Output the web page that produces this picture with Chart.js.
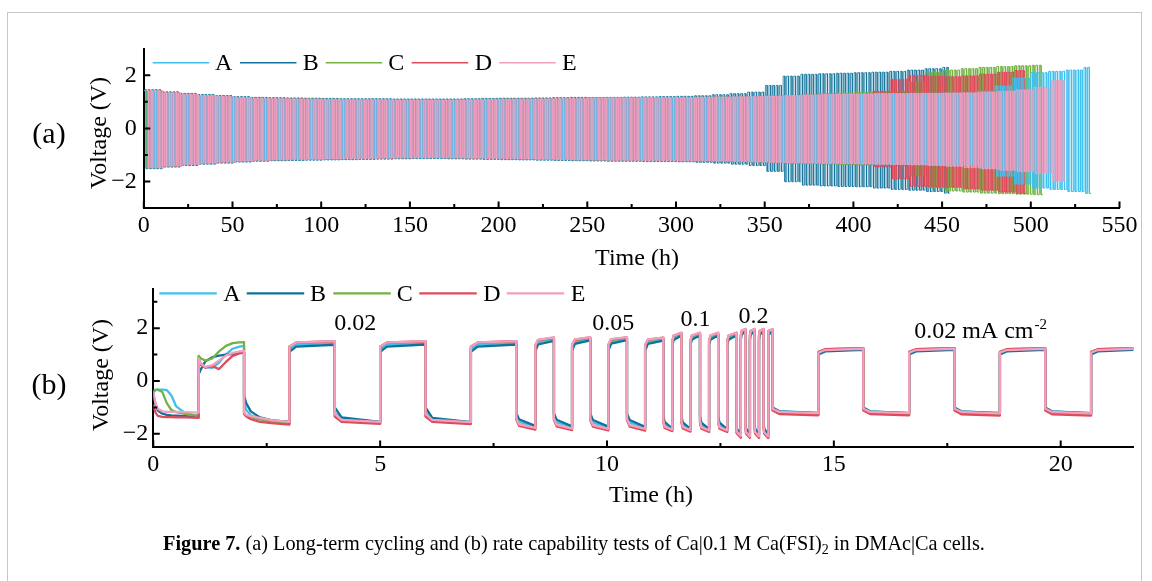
<!DOCTYPE html>
<html><head><meta charset="utf-8">
<script src="https://cdn.jsdelivr.net/npm/chart.js@4.4.1/dist/chart.umd.min.js"></script>
<style>
html,body{margin:0;padding:0;background:#fff;}
#wrap{position:relative;width:1152px;height:581px;overflow:hidden;background:#fff;}
canvas{position:absolute;left:0;top:0;}
#frame{position:absolute;left:7px;top:12px;width:1135px;height:620px;border:1px solid #c6c6c6;box-sizing:border-box;}
#cap{position:absolute;left:0;top:533px;width:1148px;text-align:center;font:20.3px/20px 'Liberation Serif',serif;color:#000;white-space:nowrap;}
#cap sub{font-size:14px;line-height:0;vertical-align:-4px;}
</style></head><body>
<div id="wrap">
<div id="frame"></div>
<canvas id="ca" width="1152" height="581"></canvas>
<canvas id="cb" width="1152" height="581"></canvas>
<div id="cap"><b>Figure 7.</b> (a) Long-term cycling and (b) rate capability tests of Ca|0.1 M Ca(FSI)<sub>2</sub> in DMAc|Ca cells.</div>
</div>
<script>
// ---------------- shared ----------------
const seriesNames = ['A', 'B', 'C', 'D', 'E'];
const seriesColors = ['#3fc0ee', '#10729a', '#72b243', '#e04b5b', '#f29fc0'];

// ---------------- panel (a): long-term cycling ----------------
const aXTicks = [0, 50, 100, 150, 200, 250, 300, 350, 400, 450, 500, 550];
const aYTicks = [-2, 0, 2];
const aBinHours = 10;          // envelope read every 10 h
const aCycleHours = 2;         // 1 h plating + 1 h stripping
const aEnds = [535, 456, 508, 498, 520];
const aPhase = [0, 0.4, 0.8, 1.2, 1.6];
// upper / lower voltage envelope per 10 h bin
const aHiA = [1.42,1.34,1.28,1.24,1.2,1.16,1.13,1.12,1.11,1.1, 1.09,1.08,1.08,1.08,1.07,1.07,1.07,1.07,1.08,1.09, 1.1,1.1,1.11,1.12,1.13,1.14,1.15,1.15,1.16,1.16, 1.16,1.17,1.18,1.19,1.2,1.22,1.24,1.26,1.28,1.3, 1.3,1.31,1.31,1.32,1.32,1.33,1.33, 1.4,1.6,1.9,2.1,2.15,2.2,2.3];
const aLoA = [-1.48,-1.42,-1.36,-1.31,-1.27,-1.23,-1.2,-1.18,-1.17,-1.16, -1.15,-1.14,-1.13,-1.12,-1.11,-1.1,-1.1,-1.11,-1.12,-1.13, -1.14,-1.15,-1.16,-1.17,-1.18,-1.19,-1.2,-1.2,-1.21,-1.21, -1.22,-1.22,-1.23,-1.24,-1.26,-1.28,-1.3,-1.31,-1.32,-1.33, -1.34,-1.35,-1.36,-1.37,-1.38,-1.39,-1.4, -1.5,-1.8,-2.1,-2.25,-2.3,-2.38,-2.45];
const aHiB = [1.46,1.38,1.32,1.28,1.24,1.2,1.17,1.16,1.15,1.14, 1.13,1.12,1.12,1.12,1.11,1.11,1.11,1.11,1.12,1.13, 1.14,1.14,1.15,1.16,1.17,1.16,1.17,1.18,1.19,1.2, 1.21,1.23,1.27,1.31,1.37,1.62,1.97,2.04,2.06,2.08, 2.1,2.12,2.15,2.2,2.25,2.3];
const aLoB = [-1.52,-1.46,-1.4,-1.35,-1.31,-1.27,-1.24,-1.22,-1.21,-1.2, -1.19,-1.18,-1.17,-1.16,-1.15,-1.14,-1.14,-1.15,-1.16,-1.17, -1.18,-1.19,-1.2,-1.21,-1.22,-1.23,-1.24,-1.24,-1.25,-1.25, -1.26,-1.28,-1.31,-1.35,-1.4,-1.62,-2.01,-2.14,-2.17,-2.19, -2.2,-2.25,-2.3,-2.33,-2.38,-2.44];
const aHiC = [1.42,1.34,1.28,1.24,1.2,1.16,1.13,1.12,1.11,1.1, 1.09,1.08,1.08,1.08,1.07,1.07,1.07,1.07,1.08,1.09, 1.1,1.1,1.11,1.12,1.13,1.14,1.15,1.15,1.16,1.16, 1.16,1.17,1.18,1.19,1.2,1.22,1.24,1.26,1.32,1.34, 1.36,1.38, 1.4,1.75,2.12,2.2,2.25,2.3,2.33,2.36,2.38];
const aLoC = [-1.48,-1.42,-1.36,-1.31,-1.27,-1.23,-1.2,-1.18,-1.17,-1.16, -1.15,-1.14,-1.13,-1.12,-1.11,-1.1,-1.1,-1.11,-1.12,-1.13, -1.14,-1.15,-1.16,-1.17,-1.18,-1.19,-1.2,-1.2,-1.21,-1.21, -1.22,-1.22,-1.23,-1.24,-1.26,-1.28,-1.3,-1.31,-1.34,-1.36, -1.38,-1.4, -1.42,-1.8,-2.24,-2.36,-2.4,-2.44,-2.46,-2.48,-2.5];
const aHiD = [1.42,1.34,1.28,1.24,1.2,1.16,1.13,1.12,1.11,1.1, 1.09,1.08,1.08,1.08,1.07,1.07,1.07,1.07,1.08,1.09, 1.1,1.1,1.11,1.12,1.13,1.14,1.15,1.15,1.16,1.16, 1.16,1.17,1.18,1.19,1.2,1.22,1.24,1.26,1.28,1.3, 1.3, 1.4,1.85,2.0,1.97,1.95,1.98,2.05,2.12,2.18];
const aLoD = [-1.48,-1.42,-1.36,-1.31,-1.27,-1.23,-1.2,-1.18,-1.17,-1.16, -1.15,-1.14,-1.13,-1.12,-1.11,-1.1,-1.1,-1.11,-1.12,-1.13, -1.14,-1.15,-1.16,-1.17,-1.18,-1.19,-1.2,-1.2,-1.21,-1.21, -1.22,-1.22,-1.23,-1.24,-1.26,-1.28,-1.3,-1.31,-1.32,-1.33, -1.34, -1.45,-1.9,-2.18,-2.2,-2.22,-2.28,-2.33,-2.4,-2.45];
const aHiE = [1.42,1.34,1.28,1.24,1.2,1.16,1.13,1.12,1.11,1.1, 1.09,1.08,1.08,1.08,1.07,1.07,1.07,1.07,1.08,1.09, 1.1,1.1,1.11,1.12,1.13,1.14,1.15,1.15,1.16,1.16, 1.16,1.17,1.18,1.19,1.2,1.22,1.24,1.26,1.28,1.3, 1.3,1.31,1.31,1.32,1.32, 1.33,1.34,1.36,1.4,1.45,1.55,1.8,1.95];
const aLoE = [-1.48,-1.42,-1.36,-1.31,-1.27,-1.23,-1.2,-1.18,-1.17,-1.16, -1.15,-1.14,-1.13,-1.12,-1.11,-1.1,-1.1,-1.11,-1.12,-1.13, -1.14,-1.15,-1.16,-1.17,-1.18,-1.19,-1.2,-1.2,-1.21,-1.21, -1.22,-1.22,-1.23,-1.24,-1.26,-1.28,-1.3,-1.31,-1.32,-1.33, -1.34,-1.35,-1.36,-1.37, -1.4,-1.43,-1.48,-1.53,-1.58,-1.63,-1.7,-2.0,-2.35];
// stacking order in panel (a): lower number is drawn on top
const aDrawOrder = [2, 5, 4, 3, 1];
const aLineWidths = [1.0, 0.8, 1.0, 1.0, 1.0];

// ---------------- panel (b): rate capability ----------------
const bXTicks = [0, 5, 10, 15, 20];
const bYTicks = [-2, 0, 2];
const bT = [
  0,0.05,0.1,0.2,0.3,0.4,0.5,0.7,1.0,
  1.0,1.05,1.15,1.3,1.45,1.6,1.75,1.9,2.0,
  2.0,2.05,2.15,2.35,2.6,3.0,
  3,3.15,4, 4,4.15,5, 5,5.15,6, 6,6.15,7, 7,7.15,8,
  8,8.06,8.42, 8.42,8.48,8.83, 8.83,8.89,9.23, 9.23,9.29,9.63, 9.63,9.69,10.03, 10.03,10.09,10.44, 10.44,10.5,10.84, 10.84,10.9,11.24,
  11.24,11.27,11.44, 11.44,11.47,11.64, 11.64,11.67,11.84, 11.84,11.87,12.05, 12.05,12.08,12.25, 12.25,12.28,12.45, 12.45,12.48,12.65, 12.65,12.68,12.85,
  12.85,12.865,12.95, 12.95,12.965,13.05, 13.05,13.065,13.15, 13.15,13.165,13.25, 13.25,13.265,13.35, 13.35,13.365,13.45, 13.45,13.465,13.55, 13.55,13.565,13.65,
  13.65,13.8,14.66, 14.66,14.81,15.65, 15.65,15.8,16.66, 16.66,16.81,17.66, 17.66,17.81,18.66, 18.66,18.81,19.66, 19.66,19.81,20.67, 20.67,20.82,21.6
];
const bVA = [
  -0.45,-0.35,-0.33,-0.33,-0.35,-0.55,-0.95,-1.22,-1.33,
  0.9,0.65,0.52,0.5,0.7,1.0,1.22,1.3,1.33,
  -0.8,-1.1,-1.3,-1.42,-1.5,-1.55,
  1.2,1.38,1.44, -1.2,-1.45,-1.55, 1.2,1.38,1.45, -1.2,-1.45,-1.56, 1.2,1.38,1.46,
  -1.3,-1.55,-1.72, 1.2,1.45,1.58, -1.32,-1.57,-1.74, 1.22,1.47,1.6, -1.33,-1.58,-1.75, 1.23,1.48,1.6, -1.33,-1.58,-1.76, 1.22,1.46,1.58,
  -1.4,-1.65,-1.82, 1.4,1.62,1.75, -1.42,-1.66,-1.83, 1.42,1.63,1.76, -1.43,-1.67,-1.84, 1.42,1.63,1.76, -1.43,-1.67,-1.84, 1.42,1.62,1.75,
  -1.6,-1.85,-2.02, 1.6,1.8,1.9, -1.62,-1.86,-2.03, 1.6,1.8,1.9, -1.62,-1.86,-2.03, 1.6,1.8,1.9, -1.62,-1.86,-2.03, 1.6,1.8,1.89,
  -1.05,-1.15,-1.2, 1.05,1.15,1.2, -1.05,-1.16,-1.21, 1.06,1.16,1.21, -1.06,-1.16,-1.21, 1.06,1.16,1.21, -1.06,-1.16,-1.22, 1.06,1.16,1.21
];
const bVB = [
  -0.5,-0.9,-1.12,-1.24,-1.28,-1.3,-1.31,-1.33,-1.37,
  0.25,0.45,0.75,0.9,0.96,1.0,1.02,1.06,1.08,
  -0.55,-0.85,-1.15,-1.38,-1.48,-1.55,
  1.1,1.3,1.37, -1.0,-1.38,-1.55, 1.1,1.3,1.38, -1.0,-1.4,-1.56, 1.1,1.3,1.38,
  -1.2,-1.45,-1.7, 1.12,1.38,1.52, -1.22,-1.47,-1.72, 1.14,1.4,1.54, -1.23,-1.48,-1.73, 1.15,1.41,1.55, -1.23,-1.48,-1.74, 1.14,1.4,1.53,
  -1.3,-1.55,-1.8, 1.35,1.55,1.72, -1.32,-1.57,-1.81, 1.36,1.56,1.73, -1.33,-1.58,-1.82, 1.36,1.56,1.73, -1.33,-1.58,-1.82, 1.36,1.56,1.72,
  -1.5,-1.8,-2.0, 1.55,1.75,1.88, -1.52,-1.81,-2.01, 1.55,1.75,1.88, -1.52,-1.81,-2.01, 1.55,1.75,1.88, -1.52,-1.81,-2.01, 1.55,1.75,1.87,
  -1.0,-1.15,-1.22, 1.0,1.12,1.18, -1.0,-1.15,-1.22, 1.0,1.12,1.18, -1.0,-1.15,-1.22, 1.0,1.12,1.18, -1.0,-1.15,-1.22, 1.0,1.12,1.18
];
const bVC = [
  -0.4,-0.33,-0.33,-0.42,-0.85,-1.1,-1.18,-1.25,-1.33,
  0.95,0.85,0.77,0.85,1.12,1.33,1.43,1.46,1.47,
  -1.2,-1.3,-1.38,-1.45,-1.55,-1.6,
  1.3,1.45,1.5, -1.3,-1.5,-1.58, 1.3,1.45,1.5, -1.3,-1.5,-1.59, 1.3,1.45,1.5,
  -1.42,-1.66,-1.8, 1.33,1.53,1.62, -1.44,-1.68,-1.82, 1.34,1.54,1.63, -1.45,-1.69,-1.83, 1.35,1.55,1.63, -1.45,-1.69,-1.84, 1.34,1.54,1.62,
  -1.5,-1.75,-1.87, 1.5,1.7,1.8, -1.52,-1.76,-1.88, 1.5,1.7,1.8, -1.53,-1.77,-1.89, 1.5,1.7,1.8, -1.53,-1.77,-1.89, 1.5,1.7,1.8,
  -1.7,-1.95,-2.1, 1.7,1.88,1.95, -1.72,-1.96,-2.11, 1.7,1.88,1.95, -1.72,-1.96,-2.11, 1.7,1.88,1.95, -1.72,-1.96,-2.11, 1.7,1.88,1.94,
  -1.1,-1.22,-1.26, 1.1,1.2,1.24, -1.1,-1.22,-1.26, 1.1,1.2,1.24, -1.1,-1.22,-1.27, 1.1,1.2,1.24, -1.1,-1.22,-1.27, 1.1,1.2,1.24
];
const bVD = [
  -0.95,-1.2,-1.32,-1.36,-1.37,-1.37,-1.38,-1.38,-1.4,
  0.8,0.6,0.5,0.56,0.45,0.72,0.95,1.04,1.07,
  -1.25,-1.35,-1.45,-1.55,-1.6,-1.65,
  1.3,1.46,1.5, -1.35,-1.55,-1.62, 1.3,1.46,1.5, -1.35,-1.55,-1.63, 1.3,1.46,1.51,
  -1.45,-1.7,-1.84, 1.35,1.55,1.64, -1.47,-1.72,-1.86, 1.36,1.56,1.65, -1.48,-1.73,-1.87, 1.37,1.57,1.65, -1.48,-1.73,-1.88, 1.36,1.56,1.64,
  -1.55,-1.78,-1.9, 1.52,1.72,1.82, -1.57,-1.8,-1.92, 1.52,1.72,1.82, -1.58,-1.81,-1.93, 1.52,1.72,1.82, -1.58,-1.81,-1.93, 1.52,1.72,1.82,
  -1.75,-1.98,-2.15, 1.72,1.9,1.96, -1.77,-2.0,-2.16, 1.72,1.9,1.96, -1.77,-2.0,-2.16, 1.72,1.9,1.96, -1.77,-2.0,-2.16, 1.72,1.9,1.95,
  -1.12,-1.25,-1.3, 1.1,1.2,1.24, -1.12,-1.25,-1.3, 1.1,1.2,1.24, -1.12,-1.26,-1.31, 1.1,1.2,1.24, -1.12,-1.26,-1.31, 1.1,1.2,1.24
];
const bVE = [
  -0.45,-0.85,-1.05,-1.15,-1.17,-1.17,-1.17,-1.18,-1.2,
  0.85,0.65,0.53,0.6,0.78,0.96,1.06,1.12,1.14,
  -1.2,-1.28,-1.33,-1.4,-1.48,-1.55,
  1.3,1.46,1.51, -1.25,-1.47,-1.55, 1.3,1.46,1.51, -1.25,-1.47,-1.56, 1.3,1.46,1.51,
  -1.4,-1.64,-1.78, 1.35,1.56,1.65, -1.42,-1.66,-1.8, 1.36,1.57,1.66, -1.43,-1.67,-1.81, 1.37,1.58,1.66, -1.43,-1.67,-1.81, 1.36,1.57,1.64,
  -1.5,-1.72,-1.84, 1.52,1.72,1.83, -1.52,-1.74,-1.86, 1.52,1.72,1.83, -1.53,-1.75,-1.87, 1.52,1.72,1.83, -1.53,-1.75,-1.87, 1.52,1.72,1.83,
  -1.7,-1.92,-2.08, 1.72,1.9,1.97, -1.72,-1.94,-2.1, 1.72,1.9,1.97, -1.72,-1.94,-2.1, 1.72,1.9,1.97, -1.72,-1.94,-2.1, 1.72,1.9,1.96,
  -1.05,-1.17,-1.22, 1.07,1.17,1.22, -1.05,-1.17,-1.22, 1.07,1.17,1.22, -1.05,-1.17,-1.23, 1.07,1.17,1.22, -1.05,-1.17,-1.23, 1.07,1.17,1.22
];
const bNotes = [
  {text: '0.02', x: 4.45, y: 2.15},
  {text: '0.05', x: 10.14, y: 2.15},
  {text: '0.1', x: 11.95, y: 2.3},
  {text: '0.2', x: 13.23, y: 2.44},
  {text: '0.02 mA cm', sup: '-2', x: 16.77, y: 1.85, left: true}
];

// ---------------- builders ----------------
function cyclePoints(hi, lo, end, phase) {
  const pts = [];
  for (let t = phase; t + aCycleHours <= end; t += aCycleHours) {
    const i = Math.min(Math.floor(t / aBinHours), hi.length - 1);
    const h = t + aCycleHours / 2;
    pts.push({x: t, y: hi[i]}, {x: h, y: hi[i]}, {x: h, y: lo[i]}, {x: t + aCycleHours, y: lo[i]});
  }
  return pts;
}
function pairPoints(vals) { return bT.map((t, i) => ({x: t, y: vals[i]})); }
const minus = v => (v < 0 ? '\u2212' + Math.abs(v) : String(v));
const minorBetween = (ticks, half) => ticks.map(v => v + half);

const SERIF = '"Liberation Serif", "Times New Roman", serif';
Chart.defaults.font.family = SERIF;
Chart.defaults.color = '#000';

const decoPlugin = {
  id: 'deco',
  afterDraw(chart, args, o) {
    const ctx = chart.ctx, ca = chart.chartArea, xs = chart.scales.x, ys = chart.scales.y;
    ctx.save();
    ctx.strokeStyle = '#000'; ctx.lineWidth = 2; ctx.lineCap = 'butt';
    ctx.beginPath();
    o.xMajor.forEach(v => { const p = xs.getPixelForValue(v); ctx.moveTo(p, ca.bottom); ctx.lineTo(p, ca.bottom - 6.5); });
    o.xMinor.forEach(v => { if (v >= xs.max) return; const p = xs.getPixelForValue(v); ctx.moveTo(p, ca.bottom); ctx.lineTo(p, ca.bottom - 4); });
    o.yMajor.forEach(v => { const p = ys.getPixelForValue(v); ctx.moveTo(ca.left, p); ctx.lineTo(ca.left + 6.5, p); });
    o.yMinor.forEach(v => { const p = ys.getPixelForValue(v); ctx.moveTo(ca.left, p); ctx.lineTo(ca.left + 4, p); });
    ctx.stroke();
    // legend
    const L = o.legend;
    ctx.font = '24px ' + SERIF; ctx.textAlign = 'left'; ctx.textBaseline = 'middle';
    chart.data.datasets.forEach((ds, i) => {
      ctx.strokeStyle = ds.borderColor; ctx.lineWidth = L.lineWidth;
      ctx.beginPath(); ctx.moveTo(L.lineX[i], L.y); ctx.lineTo(L.lineX[i] + L.lineLen, L.y); ctx.stroke();
      ctx.fillStyle = '#000';
      ctx.fillText(ds.label, L.textX[i], L.textY);
    });
    // axis titles
    ctx.fillStyle = '#000';
    ctx.font = '24px ' + SERIF; ctx.textAlign = 'center'; ctx.textBaseline = 'alphabetic';
    ctx.fillText(o.xTitle.text, o.xTitle.x, o.xTitle.y);
    ctx.save(); ctx.translate(o.yTitle.x, o.yTitle.y); ctx.rotate(-Math.PI / 2);
    ctx.fillText(o.yTitle.text, 0, 0); ctx.restore();
    // panel label
    ctx.font = '30px ' + SERIF;
    ctx.fillText(o.panel.text, o.panel.x, o.panel.y);
    // notes
    (o.notes || []).forEach(n => {
      const px = xs.getPixelForValue(n.x), py = ys.getPixelForValue(n.y);
      ctx.font = '24px ' + SERIF; ctx.textBaseline = 'middle';
      ctx.textAlign = n.left ? 'left' : 'center';
      ctx.fillText(n.text, px, py);
      if (n.sup) {
        const w = ctx.measureText(n.text).width;
        ctx.font = '15px ' + SERIF; ctx.textAlign = 'left';
        ctx.fillText(n.sup, px + w + 1, py - 7);
      }
    });
    ctx.restore();
  }
};

function axisCfg(min, max, ticks, pad, fitKey, fitVal) {
  return {
    type: 'linear', min, max,
    grid: {display: true, drawOnChartArea: false, drawTicks: false},
    border: {display: true, color: '#000', width: 2},
    ticks: {font: {family: SERIF, size: 24}, color: '#000', padding: pad, maxRotation: 0, autoSkip: false, callback: minus},
    afterBuildTicks: s => { s.ticks = ticks.map(v => ({value: v})); },
    afterFit: s => { s[fitKey] = fitVal; }
  };
}

// ---------------- chart (a) ----------------
const aHi = [aHiA, aHiB, aHiC, aHiD, aHiE];
const aLo = [aLoA, aLoB, aLoC, aLoD, aLoE];
new Chart(document.getElementById('ca'), {
  type: 'line',
  data: {
    datasets: seriesNames.map((n, i) => ({
      label: n, data: cyclePoints(aHi[i], aLo[i], aEnds[i], aPhase[i]),
      borderColor: seriesColors[i], borderWidth: aLineWidths[i], pointRadius: 0, tension: 0, order: aDrawOrder[i]
    }))
  },
  options: {
    responsive: false, animation: false, events: [], parsing: false, normalized: true,
    layout: {padding: {left: 83.8, right: 32.5, top: 48.8, bottom: 333}},
    plugins: {
      legend: {display: false}, tooltip: {enabled: false},
      deco: {
        xMajor: aXTicks, xMinor: minorBetween(aXTicks, 25), yMajor: aYTicks, yMinor: [-1, 1],
        legend: {y: 62.7, textY: 63.5, lineLen: 56.5, lineWidth: 1.5,
                 lineX: [152.7, 240, 325.7, 411.7, 499.3], textX: [215, 302.7, 388.3, 474.7, 562]},
        xTitle: {text: 'Time (h)', x: 637, y: 265},
        yTitle: {text: 'Voltage (V)', x: 106, y: 133},
        panel: {text: '(a)', x: 49, y: 143}
      }
    },
    scales: {
      x: axisCfg(0, 550, aXTicks, 3.6, 'height', 40),
      y: axisCfg(-3, 3, aYTicks, 7, 'width', 60)
    }
  },
  plugins: [decoPlugin]
});

// ---------------- chart (b) ----------------
const bV = [bVA, bVB, bVC, bVD, bVE];
new Chart(document.getElementById('cb'), {
  type: 'line',
  data: {
    datasets: seriesNames.map((n, i) => ({
      label: n, data: pairPoints(bV[i]),
      borderColor: seriesColors[i], borderWidth: 2.3, pointRadius: 0, tension: 0, order: 5 - i,
      borderJoinStyle: 'round', borderCapStyle: 'round'
    }))
  },
  options: {
    responsive: false, animation: false, events: [], parsing: false, normalized: true,
    layout: {padding: {left: 93.3, right: 18.7, top: 288.5, bottom: 94}},
    plugins: {
      legend: {display: false}, tooltip: {enabled: false},
      deco: {
        xMajor: bXTicks, xMinor: minorBetween(bXTicks, 2.5), yMajor: bYTicks, yMinor: [-1, 1, 3],
        legend: {y: 293.3, textY: 295, lineLen: 57.5, lineWidth: 2.2,
                 lineX: [159.3, 246.7, 333.3, 419.3, 506.7], textX: [223.3, 310, 396.7, 483.3, 570.7]},
        xTitle: {text: 'Time (h)', x: 651, y: 502},
        yTitle: {text: 'Voltage (V)', x: 108, y: 375},
        panel: {text: '(b)', x: 49, y: 394},
        notes: bNotes
      }
    },
    scales: {
      x: axisCfg(0, 21.6, bXTicks, 3.6, 'height', 40),
      y: axisCfg(-2.5, 3.5, bYTicks, 5, 'width', 60)
    }
  },
  plugins: [decoPlugin]
});
</script>
</body></html>
